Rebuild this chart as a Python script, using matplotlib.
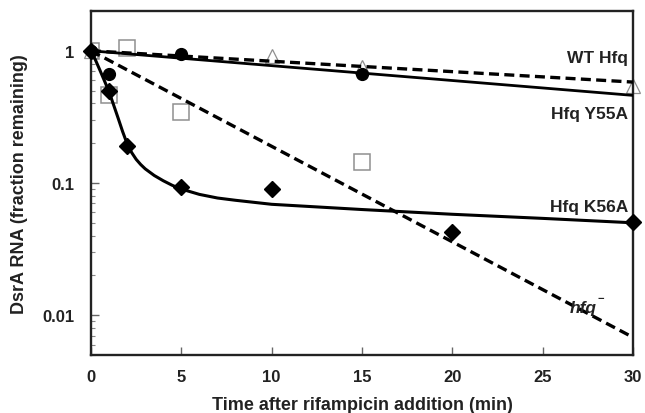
import numpy as np
import matplotlib
matplotlib.use("Agg")
import matplotlib.pyplot as plt
from matplotlib.ticker import LogLocator, NullFormatter

plt.rcParams['font.family'] = ['Liberation Sans', 'DejaVu Sans']
plt.rcParams['font.weight'] = 'bold'

# measured points
wt_t = [0, 10, 15, 30]
wt_y = [1.0, 0.92, 0.76, 0.54]
y55_t = [0, 1, 5, 15]
y55_y = [1.0, 0.67, 0.95, 0.67]
k56_t = [0, 1, 2, 5, 10, 20, 30]
k56_y = [1.0, 0.50, 0.19, 0.093, 0.09, 0.0425, 0.051]
hfq_t = [0, 1, 2, 5, 15]
hfq_y = [1.0, 0.46, 1.05, 0.345, 0.145]

# fitted lines
wt_fit_t = [0, 30]
wt_fit_y = [1.0, 0.58]
y55_fit_t = [0, 30]
y55_fit_y = [1.0, 0.46]
hfq_fit_t = [0, 30]
hfq_fit_y = [1.0, 0.0068]
k56_fit_t = [0, 0.25, 0.5, 0.75, 1, 1.25, 1.5, 1.75, 2, 2.25, 2.5, 2.75, 3, 3.5, 4, 4.5,
             5, 6, 7, 8, 10, 15, 20, 25, 30]
k56_fit_y = [1.0, 0.85, 0.71, 0.59, 0.49, 0.39, 0.31, 0.245, 0.198, 0.170, 0.151, 0.138,
             0.128, 0.114, 0.104, 0.096, 0.090, 0.082, 0.077, 0.074, 0.069, 0.063, 0.058,
             0.054, 0.050]

# curve labels
label_text = ['WT Hfq', 'Hfq Y55A', 'Hfq K56A']
label_y = [0.885, 0.333, 0.066]

gray = '#8f8f8f'

fig = plt.figure(figsize=(6.45, 4.14), dpi=100)
ax = fig.add_axes([91/645, 58/414, 542/645, 344/414])

ax.plot(wt_fit_t, wt_fit_y, color='black', lw=2.4, ls=(0, (3, 1.6)), zorder=3)
ax.plot(hfq_fit_t, hfq_fit_y, color='black', lw=2.4, ls=(0, (3, 1.6)), zorder=3)
ax.plot(y55_fit_t, y55_fit_y, color='black', lw=2.0, zorder=3)
ax.plot(k56_fit_t, k56_fit_y, color='black', lw=2.2, zorder=3)

ax.plot(hfq_t, hfq_y, ls='none', marker='s', ms=11, mfc='white', mec=gray, mew=1.1, zorder=2)
ax.plot(wt_t, wt_y, ls='none', marker='^', ms=10, mfc='white', mec=gray, mew=0.9, zorder=2,
        clip_on=False)
ax.plot(y55_t, y55_y, ls='none', marker='o', ms=8.5, mfc='black', mec='black', zorder=4)
ax.plot(k56_t, k56_y, ls='none', marker='D', ms=8, mfc='black', mec='black', zorder=4,
        clip_on=False)

ax.set_yscale('log')
ax.set_xlim(0, 30)
ax.set_ylim(0.005, 2.0)
ax.set_xticks([0, 5, 10, 15, 20, 25, 30])
ax.set_xticklabels(['0', '5', '10', '15', '20', '25', '30'])
ax.set_yticks([0.01, 0.1, 1])
ax.set_yticklabels(['0.01', '0.1', '1'])
ax.yaxis.set_minor_locator(LogLocator(base=10, subs=np.arange(2, 10)))
ax.yaxis.set_minor_formatter(NullFormatter())

ax.tick_params(axis='both', which='major', direction='in', length=6, width=1,
               labelsize=12, color='#666666', labelcolor='#222222')
ax.tick_params(axis='y', which='minor', direction='in', length=3, width=0.8, color='#888888')
ax.tick_params(axis='x', pad=10)
ax.tick_params(axis='y', pad=12)
for s in ax.spines.values():
    s.set_linewidth(1.7)
    s.set_color('#222222')

ax.set_xlabel('Time after rifampicin addition (min)', fontsize=13, fontweight='bold',
              labelpad=9, color='#222222')
ax.set_ylabel('DsrA RNA (fraction remaining)', fontsize=13, fontweight='bold',
              labelpad=10, color='#222222')

for txt, yy in zip(label_text, label_y):
    ax.text(29.75, yy, txt, ha='right', va='center', fontsize=12.5, fontweight='bold',
            color='#222222')
ax.text(28.0, 0.0115, 'hfq', ha='right', va='center', fontsize=12.5, fontweight='bold',
        fontstyle='italic', color='#222222')
ax.text(28.05, 0.0135, '\u2212', ha='left', va='center', fontsize=8, fontweight='bold',
        color='#222222')

fig.savefig('out.png', dpi=100)
